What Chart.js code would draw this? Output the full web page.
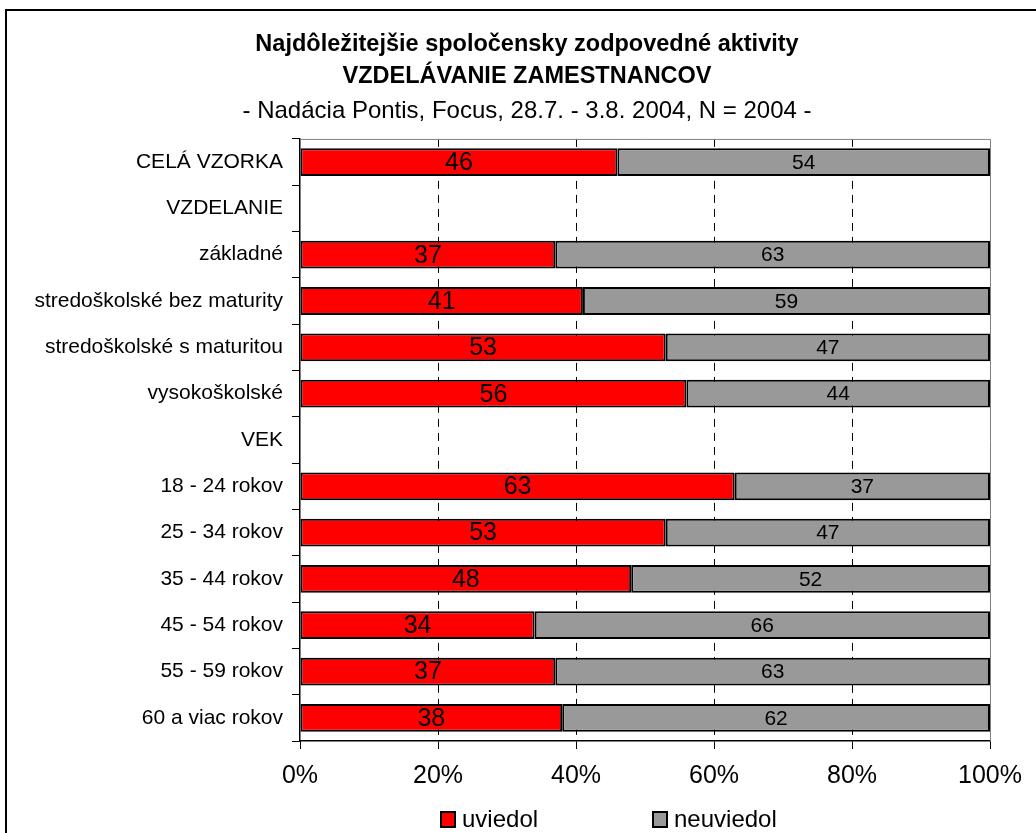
<!doctype html>
<html>
<head>
    <title>Vzdelávanie zamestnancov</title>
    <meta charset="UTF-8">
    <script src="https://cdn.jsdelivr.net/npm/chart.js@4.4.0/dist/chart.umd.min.js"></script>
    <style>
        html, body { margin: 0; padding: 0; background: #fff; overflow: hidden; }
        #canvas-holder { position: absolute; left: 0; top: 0; width: 1036px; height: 833px; }
        #frame { position: absolute; left: 5px; top: 9px; width: 1100px; height: 900px; border: 2px solid #000; pointer-events: none; }
    </style>
</head>
<body>
<div id="canvas-holder">
    <canvas id="chart-area" width="1036" height="833"></canvas>
</div>
<div id="frame"></div>
<script>
    // kategorie (osi Y)
    var categories = [
        'CELÁ VZORKA', 'VZDELANIE', 'základné', 'stredoškolské bez maturity',
        'stredoškolské s maturitou', 'vysokoškolské', 'VEK', '18 - 24 rokov',
        '25 - 34 rokov', '35 - 44 rokov', '45 - 54 rokov', '55 - 59 rokov', '60 a viac rokov'
    ];
    var uviedol = [46, null, 37, 41, 53, 56, null, 63, 53, 48, 34, 37, 38];
    var neuviedol = [54, null, 63, 59, 47, 44, null, 37, 47, 52, 66, 63, 62];
    var xTicks = [0, 20, 40, 60, 80, 100];
    var seriesNames = ['uviedol', 'neuviedol'];

    var FONT = '"Liberation Sans", Arial, Helvetica, sans-serif';
    Chart.defaults.font.family = FONT;
    Chart.defaults.color = '#000';

    // cisla v stlpcoch
    var barLabels = {
        id: 'barLabels',
        afterDatasetsDraw: function (chart) {
            var ctx = chart.ctx;
            ctx.save();
            ctx.textAlign = 'center';
            ctx.textBaseline = 'middle';
            ctx.fillStyle = '#000';
            chart.data.datasets.forEach(function (ds, di) {
                var meta = chart.getDatasetMeta(di);
                ctx.font = (di === 0 ? '25px ' : '21px ') + FONT;
                meta.data.forEach(function (bar, i) {
                    var v = ds.data[i];
                    if (v === null) return;
                    ctx.fillText(String(v), (bar.x + bar.base) / 2, bar.y + 1);
                });
            });
            ctx.restore();
        }
    };

    // horna a prava hrana plochy grafu
    var plotBox = {
        id: 'plotBox',
        beforeDatasetsDraw: function (chart) {
            var a = chart.chartArea, ctx = chart.ctx;
            ctx.save();
            ctx.strokeStyle = '#808080';
            ctx.lineWidth = 1;
            ctx.beginPath();
            ctx.moveTo(a.left, a.top + 0.5);
            ctx.lineTo(a.right + 0.5, a.top + 0.5);
            ctx.lineTo(a.right + 0.5, a.bottom);
            ctx.stroke();
            ctx.restore();
        }
    };

    // legenda dole
    var bottomLegend = {
        id: 'bottomLegend',
        afterDraw: function (chart) {
            var ctx = chart.ctx;
            var xs = [441, 653];
            var y = 819;
            ctx.save();
            ctx.font = '24px ' + FONT;
            ctx.textBaseline = 'middle';
            ctx.textAlign = 'left';
            chart.data.datasets.forEach(function (ds, i) {
                ctx.fillStyle = ds.backgroundColor;
                ctx.fillRect(xs[i], y - 7, 14, 15);
                ctx.strokeStyle = '#000';
                ctx.lineWidth = 2;
                ctx.strokeRect(xs[i], y - 7, 14, 15);
                ctx.fillStyle = '#000';
                ctx.fillText(ds.label, xs[i] + 21, y + 1);
            });
            ctx.restore();
        }
    };

    var config = {
        type: 'bar',
        data: {
            labels: categories,
            datasets: [
                {
                    label: seriesNames[0],
                    data: uviedol,
                    backgroundColor: '#FF0000',
                    borderColor: '#000',
                    borderWidth: 2,
                    borderSkipped: false
                },
                {
                    label: seriesNames[1],
                    data: neuviedol,
                    backgroundColor: '#999999',
                    borderColor: '#000',
                    borderWidth: 2,
                    borderSkipped: false
                }
            ]
        },
        options: {
            indexAxis: 'y',
            responsive: false,
            animation: false,
            datasets: { bar: { barPercentage: 0.6, categoryPercentage: 1.0 } },
            layout: { padding: { left: 28, right: 10, top: 0, bottom: 42 } },
            scales: {
                x: {
                    type: 'linear',
                    stacked: true,
                    min: 0,
                    max: 100,
                    afterBuildTicks: function (s) {
                        s.ticks = xTicks.map(function (v) { return { value: v }; });
                    },
                    ticks: {
                        callback: function (v) { return v + '%'; },
                        font: { size: 25 },
                        padding: 12,
                        maxRotation: 0
                    },
                    grid: {
                        color: function (c) {
                            return (c.tick && c.tick.value > 0 && c.tick.value < 100) ? '#000' : 'rgba(0,0,0,0)';
                        },
                        tickColor: '#000',
                        tickLength: 8,
                        lineWidth: 1
                    },
                    border: { color: '#000', width: 1.5, dash: [8, 6] },
                    afterFit: function (s) { s.height = 50; }
                },
                y: {
                    stacked: true,
                    ticks: { font: { size: 21 }, padding: 9 },
                    grid: { drawOnChartArea: false, tickLength: 8, color: '#000', offset: true },
                    border: { color: '#000', width: 1.5 },
                    afterFit: function (s) { s.width = 272; }
                },
                y2: {
                    type: 'category',
                    position: 'right',
                    labels: categories,
                    grid: { display: false, drawTicks: false },
                    border: { display: false },
                    ticks: { display: false },
                    afterFit: function (s) { s.width = 36; }
                }
            },
            plugins: {
                legend: { display: false },
                tooltip: { enabled: false },
                title: {
                    display: true,
                    text: ['Najdôležitejšie spoločensky zodpovedné aktivity', 'VZDELÁVANIE ZAMESTNANCOV'],
                    font: { size: 23.5, weight: 'bold', lineHeight: 1.36 },
                    color: '#000',
                    padding: { top: 29, bottom: 0 }
                },
                subtitle: {
                    display: true,
                    text: '- Nadácia Pontis, Focus, 28.7. - 3.8. 2004, N = 2004 -',
                    font: { size: 24, weight: 'normal', lineHeight: 1.333 },
                    color: '#000',
                    padding: { top: 2, bottom: 12 }
                }
            }
        },
        plugins: [plotBox, barLabels, bottomLegend]
    };

    var ctx = document.getElementById('chart-area').getContext('2d');
    window.myBar = new Chart(ctx, config);
</script>
</body>
</html>
